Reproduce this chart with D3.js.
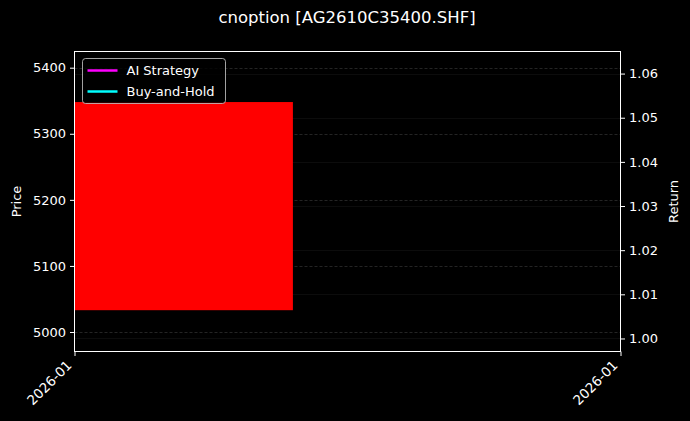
<!DOCTYPE html>
<html>
<head>
<meta charset="utf-8">
<script src="https://cdn.jsdelivr.net/npm/d3@7"></script>
<style>
  body { margin: 0; background: #000; }
  svg { display: block; font-family: "DejaVu Sans", sans-serif; }
</style>
</head>
<body>
<div id="chart"></div>
<script>
// candle data (one bar) and axis ticks
const dates = ["2026-01-15"];
const opens = [5033];
const closes = [5348];
const priceTicks = [5000, 5100, 5200, 5300, 5400];
const returnTicks = [1.00, 1.01, 1.02, 1.03, 1.04, 1.05, 1.06];
const seriesNames = ["AI Strategy", "Buy-and-Hold"];
const seriesColors = ["#ff00ff", "#00ffff"];

const W = 690, H = 421;
const m = {left: 74.5, right: 69.5, top: 51.5, bottom: 69.5};

const svg = d3.select('#chart').append('svg')
  .attr('width', W).attr('height', H)
  .style('background', '#000');

const parse = d3.utcParse('%Y-%m-%d');
const candles = dates.map((d, i) => ({date: parse(d), open: opens[i], close: closes[i]}));

const day = 864e5;
const barW = 0.8 * day;
const x0 = new Date(+candles[0].date - barW / 2);
const x = d3.scaleUtc()
  .domain([x0, new Date(+x0 + 2 * day)])
  .range([m.left, W - m.right]);

const y = d3.scaleLinear().domain([4970.5, 5424.5]).range([H - m.bottom, m.top]);
const y2 = d3.scaleLinear().domain([0.99705, 1.0650]).range([H - m.bottom, m.top]);

// grid
svg.append('g').selectAll('line').data(priceTicks).enter().append('line')
  .attr('x1', m.left).attr('x2', W - m.right)
  .attr('y1', d => Math.round(y(d)) + 0.5).attr('y2', d => Math.round(y(d)) + 0.5)
  .attr('stroke', '#888').attr('stroke-opacity', 0.45)
  .attr('stroke-width', 0.6).attr('stroke-dasharray', '3,2');
svg.append('g').selectAll('line').data(returnTicks).enter().append('line')
  .attr('x1', m.left).attr('x2', W - m.right)
  .attr('y1', d => Math.round(y2(d)) + 0.5).attr('y2', d => Math.round(y2(d)) + 0.5)
  .attr('stroke', '#888').attr('stroke-opacity', 0.3)
  .attr('stroke-width', 0.6).attr('stroke-dasharray', '1,1');

// candles
svg.append('g').selectAll('rect').data(candles).enter().append('rect')
  .attr('x', d => x(new Date(+d.date - barW / 2)))
  .attr('width', d => x(new Date(+d.date + barW / 2)) - x(new Date(+d.date - barW / 2)))
  .attr('y', d => y(Math.max(d.open, d.close)))
  .attr('height', d => Math.abs(y(d.open) - y(d.close)))
  .attr('fill', '#ff0000');

// frame
svg.append('rect')
  .attr('x', m.left).attr('y', m.top)
  .attr('width', W - m.left - m.right).attr('height', H - m.top - m.bottom)
  .attr('fill', 'none').attr('stroke', '#fff').attr('stroke-width', 1);

const styleAxis = g => {
  g.select('.domain').remove();
  g.selectAll('.tick line').attr('stroke', '#fff');
  g.selectAll('.tick text').attr('fill', '#fff').style('font-size', '13px')
    .style('font-family', '"DejaVu Sans", sans-serif');
};

svg.append('g').attr('transform', `translate(${m.left},0)`)
  .call(d3.axisLeft(y).tickValues(priceTicks).tickSize(4.5).tickPadding(4)
    .tickFormat(d3.format('d')))
  .call(styleAxis);

svg.append('g').attr('transform', `translate(${W - m.right},0)`)
  .call(d3.axisRight(y2).tickValues(returnTicks).tickSize(4.5).tickPadding(4)
    .tickFormat(d3.format('.2f')))
  .call(styleAxis);

const xg = svg.append('g').attr('transform', `translate(0,${H - m.bottom})`)
  .call(d3.axisBottom(x).tickValues(x.domain()).tickSize(4.5).tickFormat(d3.utcFormat('%Y-%m')))
  .call(styleAxis);
xg.selectAll('.tick text')
  .style('font-size', '13.5px')
  .attr('text-anchor', 'end')
  .attr('dy', '0.35em')
  .attr('transform', 'translate(-11,6) rotate(-45)');

// labels
svg.append('text').attr('x', 347).attr('y', 23).attr('text-anchor', 'middle')
  .attr('fill', '#fff').style('font-size', '16.5px').text('cnoption [AG2610C35400.SHF]');
svg.append('text').attr('transform', `translate(21,${(m.top + H - m.bottom) / 2}) rotate(-90)`)
  .attr('text-anchor', 'middle').attr('fill', '#fff').style('font-size', '13px').text('Price');
svg.append('text').attr('transform', `translate(678,${(m.top + H - m.bottom) / 2}) rotate(-90)`)
  .attr('text-anchor', 'middle').attr('fill', '#fff').style('font-size', '13px').text('Return');

// legend
const lg = svg.append('g').attr('transform', 'translate(82.5,58.5)');
lg.append('rect').attr('width', 143).attr('height', 45).attr('rx', 3)
  .attr('fill', '#000').attr('fill-opacity', 0.8)
  .attr('stroke', '#ccc').attr('stroke-width', 0.8);
const items = lg.selectAll('g.item').data(seriesNames).enter().append('g')
  .attr('transform', (d, i) => `translate(0,${12 + i * 21})`);
items.append('line').attr('x1', 5).attr('x2', 35)
  .attr('stroke', (d, i) => seriesColors[i]).attr('stroke-width', 2.5);
items.append('text').attr('x', 44).attr('dy', '0.35em')
  .attr('fill', '#fff').style('font-size', '13px').text(d => d);
</script>
</body>
</html>
